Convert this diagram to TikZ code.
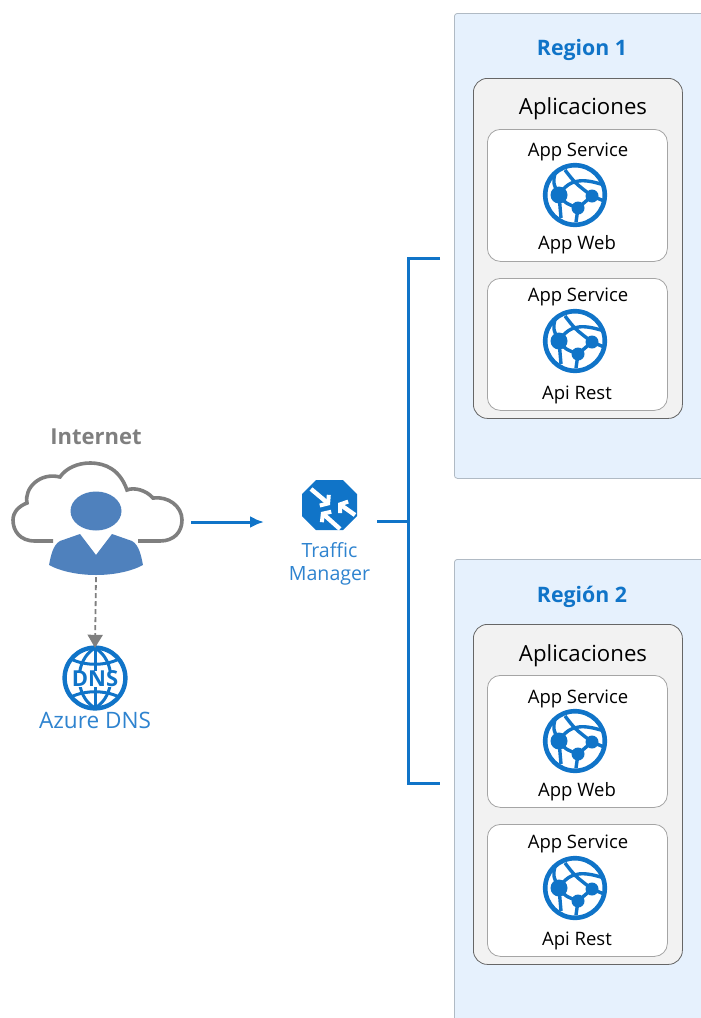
\documentclass[tikz,border=0pt]{standalone}
\usepackage{fontspec}
\setmainfont{Open Sans}
\usetikzlibrary{arrows.meta}
\definecolor{azure}{RGB}{16,116,200}
\definecolor{azuretext}{RGB}{46,131,207}
\definecolor{regionfill}{RGB}{230,241,253}
\definecolor{regionline}{RGB}{176,186,196}
\definecolor{appsfill}{RGB}{242,242,242}
\definecolor{cardline}{RGB}{165,165,165}
\definecolor{usergray}{RGB}{127,127,127}
\definecolor{userblue}{RGB}{79,129,189}
\tikzset{
  regionbox/.style={draw=regionline, fill=regionfill, rounded corners=3pt, line width=0.8pt, minimum width=300pt, anchor=north west, inner sep=0pt},
  appsbox/.style={draw=black!60, fill=appsfill, rounded corners=14pt, line width=0.8pt, minimum width=209pt, minimum height=340pt, anchor=north west, inner sep=0pt},
  cardbox/.style={draw=cardline, fill=white, rounded corners=13pt, line width=0.8pt, minimum width=180pt, minimum height=132pt, anchor=north west, inner sep=0pt},
  regiontitle/.style={font=\fontsize{21.3}{24}\selectfont\bfseries, text=azure},
  appstitle/.style={font=\fontsize{22.2}{26}\selectfont, text=black},
  cardtext/.style={font=\fontsize{18.5}{22}\selectfont, text=black},
  bluetext/.style={font=\fontsize{19.6}{23}\selectfont, text=azuretext, align=center},
  bluelink/.style={azure, line width=3pt},
  tmarrow/.style={white, line width=4.4pt, -{Straight Barb[length=5pt, width=14pt, line width=4pt]}},
  webapp/.pic={
    \draw[azure, line width=4.6pt] (0,0) circle (29.8pt);
    \fill[azure] (-16,0) circle (8.5pt) (17,1) circle (6.5pt) (3,13) circle (6.5pt);
    \draw[azure, line width=3.4pt] (-20,-22) .. controls (-22,-12) .. (-16,0);
    \draw[azure, line width=3.4pt] (-16,0) .. controls (-5,-18) and (10,-16) .. (29,-10);
    \draw[azure, line width=3.4pt] (-10,-25) .. controls (0,-12) .. (17,1) -- (29,6);
    \draw[azure, line width=3.4pt] (-16,0) .. controls (-10,8) .. (3,13) -- (1,27);
    \draw[azure, line width=3.4pt] (-16,0) -- (-14,23);
    \draw[azure, line width=3.4pt] (3,13) -- (17,1);
  }
}
\begin{document}
\begin{tikzpicture}[x=1pt, y=-1pt]
  \useasboundingbox (0,0) rectangle (701,1018);

  % regiones
  \node[regionbox, minimum height=465pt] (region1) at (454,13) {};
  \node[regionbox, minimum height=520pt] (region2) at (454,559) {};
  \node[regiontitle] (region1title) at (582,50) {Region 1};
  \node[regiontitle] (region2title) at (582,597) {Región 2};

  \node[appsbox] (apps1) at (473,78) {};
  \node[appstitle] (apps1title) at (583,109) {Aplicaciones};
  \node[cardbox] (card1a) at (487,129) {};
  \node[cardbox] (card1b) at (487,278) {};
  \node[cardtext] (svc1a) at (578,152) {App Service};
  \pic at (575,195) {webapp};
  \node[cardtext] (web1) at (577,245) {App Web};
  \node[cardtext] (svc1b) at (578,297) {App Service};
  \pic at (575,341) {webapp};
  \node[cardtext] (api1) at (577,395) {Api Rest};

  \node[appsbox] (apps2) at (473,624) {};
  \node[appstitle] (apps2title) at (583,656) {Aplicaciones};
  \node[cardbox] (card2a) at (487,675) {};
  \node[cardbox] (card2b) at (487,824) {};
  \node[cardtext] (svc2a) at (578,699) {App Service};
  \pic at (575,741) {webapp};
  \node[cardtext] (web2) at (577,792) {App Web};
  \node[cardtext] (svc2b) at (578,844) {App Service};
  \pic at (575,888) {webapp};
  \node[cardtext] (api2) at (577,941) {Api Rest};

  % internet
  \node[font=\fontsize{22}{26}\selectfont\bfseries, text=usergray] (internet) at (96,437) {Internet};
  \draw[usergray, line width=3.6pt, fill=white] (53,541) -- (35,541)
    .. controls (20,541) and (13,531) .. (13,520)
    .. controls (13,512) and (19,506) .. (27,503)
    .. controls (24,488) and (40,472) .. (60,477)
    .. controls (66,468) and (78,463) .. (90,463)
    .. controls (106,463) and (120,470) .. (127,490)
    .. controls (134,487) and (146,490) .. (153,498)
    .. controls (168,496) and (182,506) .. (182,520)
    .. controls (182,532) and (174,541) .. (160,541) -- (138,541);
  \fill[userblue] (96,511) ellipse [x radius=25.5pt, y radius=19.5pt];
  \fill[userblue] (80,534) -- (96,555) -- (112,534) -- (132,541)
    .. controls (139,545) and (141,555) .. (143,565)
    .. controls (130,572) and (112,575) .. (96,575)
    .. controls (80,575) and (62,572) .. (49,565)
    .. controls (51,555) and (53,545) .. (60,541) -- cycle;
  \node[minimum width=94pt, minimum height=84pt, inner sep=0pt] (user) at (96,533) {};

  % dns
  \node[circle, minimum size=60pt, inner sep=0pt] (dns) at (95,678) {};
  \draw[azure, line width=4.4pt] (dns.center) circle (30.4pt);
  \draw[azure, line width=3pt] (95,648) .. controls (74,660) and (74,696) .. (95,708);
  \draw[azure, line width=3pt] (95,648) .. controls (116,660) and (116,696) .. (95,708);
  \draw[azure, line width=3pt] (95,648) -- (95,708);
  \draw[azure, line width=3pt] (71,659) .. controls (85,666) and (105,666) .. (119,659);
  \draw[azure, line width=3pt] (71,697) .. controls (85,690) and (105,690) .. (119,697);
  \node[fill=white, inner xsep=1pt, inner ysep=0pt, font=\fontsize{22}{22}\selectfont\bfseries, text=azure] (dnstext) at (95,679) {DNS};
  \node[bluetext, font=\fontsize{22.6}{26}\selectfont] (dnslabel) at (95,720) {Azure DNS};

  % traffic manager
  \node[minimum width=56pt, minimum height=50pt, inner sep=0pt] (tm) at (329.5,505) {};
  \fill[azure] (316,480) -- (343,480) -- (357,494) -- (357,516) -- (343,530) -- (316,530) -- (302,516) -- (302,494) -- cycle;
  \draw[tmarrow] (311,489) -- (330,505);
  \draw[tmarrow] (340,529) -- (321,512);
  \draw[tmarrow] (355,515) -- (338,503);
  \node[bluetext] (tmlabel) at (329.5,564) {Traffic\\Manager};

  % conexiones
  \coordinate (trafficstart) at (377,521);
  \coordinate (bustop) at (408,258);
  \coordinate (busmid) at (408,521);
  \coordinate (busbot) at (408,783);
  \coordinate (reg1stub) at (440,258);
  \coordinate (reg2stub) at (440,783);
  \coordinate (userout) at (191,522);
  \coordinate (tmin) at (264,522);
  \draw[bluelink, -{Latex[length=14pt, width=12pt]}] (userout) -- (tmin);
  \draw[bluelink] (trafficstart) -- (busmid);
  \draw[bluelink] (reg1stub) -- (bustop) -- (busbot) -- (reg2stub);
  \draw[usergray, line width=1.8pt, dash pattern=on 5pt off 3pt, -{Triangle[length=13pt, width=15pt]}] (user.south) ++(0,2) -- (dns.north);
\end{tikzpicture}
\end{document}
